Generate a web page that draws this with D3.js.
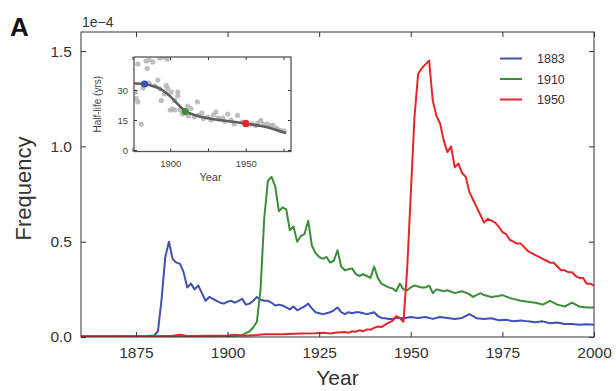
<!DOCTYPE html>
<html>
<head>
<meta charset="utf-8">
<script src="https://cdn.jsdelivr.net/npm/d3@7"></script>
<style>
  html, body { margin: 0; padding: 0; background: #fff; }
  svg { display: block; font-family: "Liberation Sans", Arial, sans-serif; }
</style>
</head>
<body>
<svg id="chart" width="616" height="391"></svg>
<script>
// Yearly frequency (units of 1e-4) of the strings "1883", "1910", "1950"
const freq1883 = [
  [1860,0.004],[1865,0.004],[1870,0.004],[1875,0.004],[1878,0.005],[1880,0.008],[1881,0.03],
  [1882,0.2],[1883,0.42],[1884,0.50],[1885,0.41],[1886,0.39],[1887,0.385],[1888,0.34],
  [1889,0.26],[1890,0.28],[1891,0.25],[1892,0.27],[1893,0.23],[1894,0.19],[1895,0.21],
  [1896,0.20],[1897,0.19],[1898,0.18],[1899,0.175],[1900,0.185],[1901,0.19],[1902,0.18],
  [1903,0.19],[1904,0.20],[1905,0.17],[1906,0.175],[1907,0.19],[1908,0.21],[1909,0.195],
  [1910,0.19],[1911,0.19],[1912,0.18],[1913,0.165],[1914,0.17],[1915,0.165],[1916,0.155],
  [1917,0.145],[1918,0.16],[1919,0.14],[1920,0.15],[1921,0.16],[1922,0.175],[1923,0.15],
  [1924,0.13],[1925,0.125],[1926,0.12],[1927,0.125],[1928,0.13],[1929,0.14],[1930,0.155],
  [1931,0.13],[1932,0.12],[1933,0.13],[1934,0.125],[1935,0.13],[1936,0.13],[1937,0.125],
  [1938,0.12],[1939,0.125],[1940,0.13],[1941,0.11],[1942,0.1],[1943,0.098],[1944,0.095],
  [1945,0.095],[1946,0.1],[1947,0.1],[1948,0.098],[1950,0.105],[1952,0.1],[1954,0.105],
  [1956,0.095],[1958,0.105],[1960,0.1],[1962,0.095],[1964,0.1],[1966,0.12],[1967,0.11],
  [1968,0.098],[1970,0.095],[1972,0.098],[1974,0.088],[1976,0.09],[1978,0.083],[1980,0.087],
  [1982,0.082],[1984,0.078],[1986,0.082],[1988,0.072],[1990,0.076],[1992,0.068],[1994,0.068],
  [1996,0.064],[1998,0.067],[2000,0.064]
];

const freq1910 = [
  [1860,0.003],[1880,0.003],[1900,0.004],[1902,0.005],[1903,0.008],[1904,0.01],[1905,0.02],
  [1906,0.03],[1907,0.05],[1908,0.08],[1909,0.25],[1910,0.62],[1911,0.82],[1912,0.84],
  [1913,0.79],[1914,0.66],[1915,0.68],[1916,0.67],[1917,0.56],[1918,0.58],[1919,0.50],
  [1920,0.53],[1921,0.54],[1922,0.61],[1923,0.48],[1924,0.44],[1925,0.42],[1926,0.41],
  [1927,0.42],[1928,0.39],[1929,0.40],[1930,0.455],[1931,0.37],[1932,0.35],[1933,0.355],
  [1934,0.36],[1935,0.33],[1936,0.32],[1937,0.33],[1938,0.32],[1939,0.31],[1940,0.37],
  [1941,0.31],[1942,0.28],[1943,0.27],[1944,0.26],[1945,0.255],[1946,0.24],[1947,0.28],
  [1948,0.25],[1949,0.245],[1950,0.26],[1951,0.27],[1952,0.265],[1953,0.26],[1954,0.26],
  [1955,0.27],[1956,0.23],[1957,0.25],[1958,0.245],[1959,0.24],[1960,0.245],[1962,0.23],
  [1964,0.24],[1966,0.225],[1967,0.21],[1969,0.23],[1970,0.22],[1972,0.21],[1974,0.215],
  [1975,0.22],[1977,0.205],[1978,0.20],[1980,0.19],[1982,0.185],[1984,0.18],[1986,0.17],
  [1988,0.19],[1990,0.17],[1992,0.16],[1994,0.18],[1996,0.16],[1998,0.155],[2000,0.155]
];

const freq1950 = [
  [1860,0.002],[1870,0.003],[1880,0.004],[1885,0.006],[1887,0.012],[1889,0.005],[1895,0.006],
  [1900,0.008],[1902,0.012],[1904,0.006],[1908,0.01],[1910,0.014],[1915,0.015],[1920,0.018],
  [1924,0.02],[1926,0.022],[1928,0.018],[1930,0.024],[1932,0.026],[1933,0.022],[1934,0.03],
  [1935,0.028],[1936,0.035],[1937,0.03],[1938,0.04],[1939,0.038],[1940,0.048],[1941,0.055],
  [1942,0.052],[1943,0.065],[1944,0.075],[1945,0.085],[1946,0.11],[1947,0.1],[1948,0.08],
  [1949,0.35],[1950,0.75],[1951,1.15],[1952,1.38],[1953,1.41],[1954,1.43],[1955,1.45],
  [1956,1.24],[1957,1.16],[1958,1.12],[1959,1.03],[1960,0.97],[1961,1.0],[1962,0.89],
  [1963,0.91],[1964,0.86],[1965,0.84],[1966,0.76],[1967,0.72],[1968,0.68],[1969,0.64],
  [1970,0.60],[1971,0.62],[1972,0.61],[1973,0.60],[1974,0.58],[1975,0.55],[1976,0.54],
  [1977,0.51],[1978,0.50],[1979,0.49],[1980,0.49],[1981,0.47],[1982,0.45],[1983,0.44],
  [1984,0.43],[1985,0.42],[1986,0.41],[1987,0.40],[1988,0.39],[1989,0.39],[1990,0.37],
  [1991,0.35],[1992,0.35],[1993,0.34],[1994,0.34],[1995,0.32],[1996,0.31],[1997,0.31],
  [1998,0.28],[1999,0.28],[2000,0.27]
];

const seriesNames = ["1883", "1910", "1950"];
const seriesColors = ["#4050b5", "#3a8e3a", "#e4262b"];
const xTicks = [1875, 1900, 1925, 1950, 1975, 2000];
const yTicks = [0.0, 0.5, 1.0, 1.5];

// Inset: half-life of year strings, by year
const halfLifeYears = [
  1878.6,1884,1886,1888.5,1893,1895.5,1898,1884.8,1891.8,1893,1897.3,1898.4,1896,1900.6,
  1905,1905,1902.8,1894,1877.5,1878.6,1877,1882,1880.8,1900,1901.5,1903,1906.5,1911.6,
  1913.8,1918,1916,1919,1922,1925,1928.5,1930.3,1931.5,1934.8,1938,1940.3,1942.4,1944.6,
  1947.9,1954.5,1956.7,1960,1964.4,1966.6,1969.9,1973.2,1908,1912,1921,1927,1933,1936,
  1952,1958,1962,1968,1971,1975.5,1886,1890
];
const halfLifeValues = [
  43,44.5,45,44,46,46.5,45.5,40.7,35,30.7,32.3,30.7,28,29,29,27,24.8,24.8,25.7,24,29,31,13,
  20,20.5,20,20,22,20.7,24,16.5,17.5,15.8,16.5,17.5,19,16,16,18,15,13,17.3,14,13,12.3,14.8,
  13,12,11,9.7,18,17,18.5,15,15.5,14.5,12.5,13.5,12.8,12.5,10.5,9.5,33.5,32
];
const smoothYears = [1876,1883,1890,1895,1900,1905,1910,1915,1920,1925,1930,1940,1950,1960,1966,1976];
const smoothValues = [33.3,33.0,31.8,30.0,27.0,22.8,19.2,17.6,16.6,15.8,15.2,14.3,13.3,12.0,11.2,8.6];
const highlightYears = [1883, 1910, 1950];
const highlightValues = [33.0, 19.2, 13.3];
const insetXTicks = [1875, 1900, 1925, 1950, 1975];
const insetXLabels = [1900, 1950];
const insetYTicks = [0, 15, 30];

const svg = d3.select("#chart");
const axisColor = "#333";

// ---------- main panel ----------
const M = { left: 81, right: 594, top: 32, bottom: 337 };
const x = d3.scaleLinear().domain([1860, 2000]).range([M.left, M.right]);
const y = d3.scaleLinear().domain([0, 1.6]).range([M.bottom, M.top]);

svg.append("defs").append("clipPath").attr("id", "mainClip")
  .append("rect").attr("x", M.left).attr("y", M.top)
  .attr("width", M.right - M.left).attr("height", M.bottom - M.top);

const line = d3.line().x(d => x(d[0])).y(d => y(d[1]));
const lines = svg.append("g").attr("clip-path", "url(#mainClip)");
[freq1883, freq1910, freq1950].forEach((s, i) => {
  lines.append("path").datum(s)
    .attr("d", line)
    .attr("fill", "none")
    .attr("stroke", seriesColors[i])
    .attr("stroke-width", 2)
    .attr("stroke-linejoin", "round");
});

// inward ticks on all four sides
function styleAxis(g) {
  g.select(".domain").remove();
  g.selectAll(".tick line").attr("stroke", axisColor);
}
const tickLen = 5;
svg.append("g").attr("transform", `translate(0,${M.bottom})`)
  .call(d3.axisBottom(x).tickValues(xTicks).tickSize(-tickLen).tickPadding(10).tickFormat(d3.format("d")))
  .call(styleAxis)
  .call(g => g.selectAll("text").attr("font-size", 15.5).attr("fill", "#333"));
svg.append("g").attr("transform", `translate(0,${M.top})`)
  .call(d3.axisTop(x).tickValues(xTicks).tickSize(-tickLen).tickFormat(""))
  .call(styleAxis);
svg.append("g").attr("transform", `translate(${M.left},0)`)
  .call(d3.axisLeft(y).tickValues(yTicks).tickSize(-tickLen).tickPadding(9).tickFormat(d3.format(".1f")))
  .call(styleAxis)
  .call(g => g.selectAll("text").attr("font-size", 15.5).attr("fill", "#333"));
svg.append("g").attr("transform", `translate(${M.right},0)`)
  .call(d3.axisRight(y).tickValues(yTicks).tickSize(-tickLen).tickFormat(""))
  .call(styleAxis);

svg.append("rect").attr("x", M.left).attr("y", M.top)
  .attr("width", M.right - M.left).attr("height", M.bottom - M.top)
  .attr("fill", "none").attr("stroke", axisColor).attr("stroke-width", 1);

// labels
svg.append("text").attr("x", 10).attr("y", 36).text("A")
  .attr("font-size", 26).attr("font-weight", "bold").attr("fill", "#111");
svg.append("text").attr("x", 82).attr("y", 27).text("1e\u22124")
  .attr("font-size", 14).attr("fill", "#333");
svg.append("text").attr("transform", `translate(31,${(M.top + M.bottom) / 2 + 4}) rotate(-90)`)
  .attr("text-anchor", "middle").text("Frequency")
  .attr("font-size", 22).attr("fill", "#333");
svg.append("text").attr("x", (M.left + M.right) / 2).attr("y", 385)
  .attr("text-anchor", "middle").text("Year")
  .attr("font-size", 21).attr("fill", "#333");

// legend
const legend = svg.append("g");
seriesNames.forEach((name, i) => {
  const ly = 58.5 + i * 20.5;
  legend.append("line").attr("x1", 500).attr("x2", 522).attr("y1", ly).attr("y2", ly)
    .attr("stroke", seriesColors[i]).attr("stroke-width", 2);
  legend.append("text").attr("x", 537).attr("y", ly + 4.5).text(name)
    .attr("font-size", 12.5).attr("fill", "#333");
});

// ---------- inset ----------
const I = { left: 134, right: 291, top: 57, bottom: 151.5 };
const ix = d3.scaleLinear().domain([1876, 1980]).range([I.left, I.right]);
const iy = d3.scaleLinear().domain([-0.75, 46.5]).range([I.bottom, I.top]);

svg.append("rect").attr("x", I.left).attr("y", I.top)
  .attr("width", I.right - I.left).attr("height", I.bottom - I.top)
  .attr("fill", "#fff");
svg.select("defs").append("clipPath").attr("id", "insetClip")
  .append("rect").attr("x", I.left).attr("y", I.top)
  .attr("width", I.right - I.left).attr("height", I.bottom - I.top);

const inset = svg.append("g").attr("clip-path", "url(#insetClip)");
inset.selectAll("circle.pt").data(d3.range(halfLifeYears.length)).join("circle")
  .attr("class", "pt")
  .attr("cx", i => ix(halfLifeYears[i]))
  .attr("cy", i => iy(halfLifeValues[i]))
  .attr("r", 2.6)
  .attr("fill", "#b3b3b3").attr("fill-opacity", 0.85);

const smooth = d3.line().curve(d3.curveBasis)
  .x(i => ix(smoothYears[i])).y(i => iy(smoothValues[i]));
inset.append("path").datum(d3.range(smoothYears.length))
  .attr("d", smooth).attr("fill", "none")
  .attr("stroke", "#5e5e5e").attr("stroke-width", 2.6).attr("stroke-linecap", "round");

inset.selectAll("circle.hl").data(d3.range(highlightYears.length)).join("circle")
  .attr("class", "hl")
  .attr("cx", i => ix(highlightYears[i]))
  .attr("cy", i => iy(highlightValues[i]))
  .attr("r", 3.6)
  .attr("fill", i => seriesColors[i]);

const iTick = 3;
svg.append("g").attr("transform", `translate(0,${I.bottom})`)
  .call(d3.axisBottom(ix).tickValues(insetXTicks).tickSize(-iTick)
    .tickFormat(d => insetXLabels.includes(d) ? d : "").tickPadding(9))
  .call(styleAxis)
  .call(g => g.selectAll("text").attr("font-size", 9.5).attr("fill", "#444"));
svg.append("g").attr("transform", `translate(0,${I.top})`)
  .call(d3.axisTop(ix).tickValues(insetXTicks).tickSize(-iTick).tickFormat(""))
  .call(styleAxis);
svg.append("g").attr("transform", `translate(${I.left},0)`)
  .call(d3.axisLeft(iy).tickValues(insetYTicks).tickSize(-iTick).tickPadding(6))
  .call(styleAxis)
  .call(g => g.selectAll("text").attr("font-size", 9.5).attr("fill", "#444"));
svg.append("g").attr("transform", `translate(${I.right},0)`)
  .call(d3.axisRight(iy).tickValues(insetYTicks).tickSize(-iTick).tickFormat(""))
  .call(styleAxis);
svg.append("rect").attr("x", I.left).attr("y", I.top)
  .attr("width", I.right - I.left).attr("height", I.bottom - I.top)
  .attr("fill", "none").attr("stroke", "#555").attr("stroke-width", 1.3);

svg.append("text").attr("x", (I.left + I.right) / 2 - 2).attr("y", 181)
  .attr("text-anchor", "middle").text("Year")
  .attr("font-size", 11).attr("fill", "#444");
svg.append("text").attr("transform", `translate(101,${(I.top + I.bottom) / 2}) rotate(-90)`)
  .attr("text-anchor", "middle").text("Half-life (yrs)")
  .attr("font-size", 10).attr("fill", "#444");
</script>
</body>
</html>
